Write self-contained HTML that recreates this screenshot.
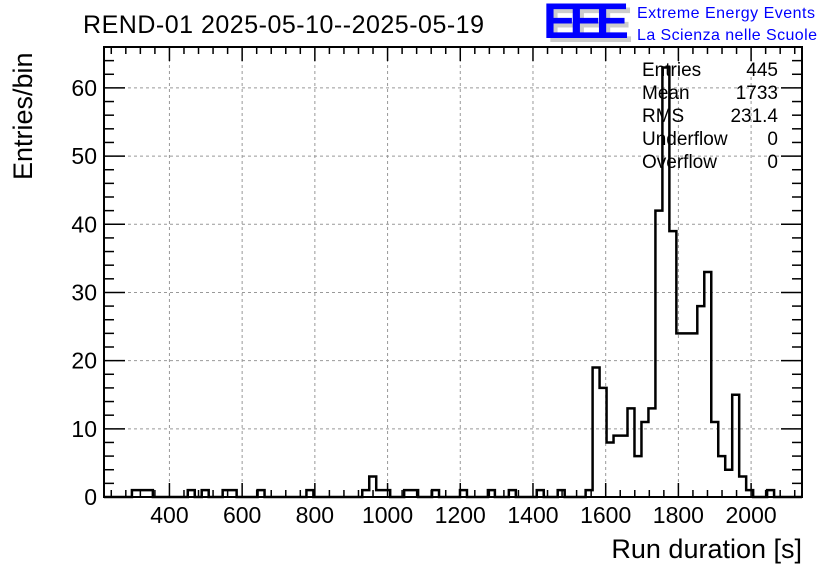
<!DOCTYPE html>
<html><head><meta charset="utf-8"><style>
body{margin:0;background:#fff;}
svg text{font-family:"Liberation Sans",sans-serif;}
</style></head><body>
<svg id="chart" width="836" height="572" xmlns="http://www.w3.org/2000/svg">
<g id="grid"></g>
<g id="ticks"></g>
<path id="hist" fill="none" stroke="#000" stroke-width="2.5"/>
<rect x="104" y="47" width="698" height="450" fill="none" stroke="#000" stroke-width="2"/>
<g id="labels" font-size="23"></g>
<text x="83" y="33" font-size="25" textLength="401">REND-01 2025-05-10--2025-05-19</text>
<text x="802" y="558" font-size="27" text-anchor="end">Run duration [s]</text>
<text transform="translate(32,180) rotate(-90)" font-size="27">Entries/bin</text>
<g>
<text x="547" y="42" font-size="50" font-weight="bold" fill="#ccc" textLength="86">EEE</text>
<text x="543" y="38" font-size="50" font-weight="bold" fill="#0000ff" textLength="86">EEE</text>
<text x="637" y="18" font-size="16" fill="#0000ff" textLength="178">Extreme Energy Events</text>
<text x="637" y="40" font-size="16" fill="#0000ff" textLength="180">La Scienza nelle Scuole</text>
</g>
<g font-size="19">
<text x="642" y="76">Entries</text><text x="778" y="76" text-anchor="end">445</text>
<text x="642" y="99">Mean</text><text x="778" y="99" text-anchor="end">1733</text>
<text x="642" y="122">RMS</text><text x="778" y="122" text-anchor="end">231.4</text>
<text x="642" y="145">Underflow</text><text x="778" y="145" text-anchor="end">0</text>
<text x="642" y="168">Overflow</text><text x="778" y="168" text-anchor="end">0</text>
</g>
</svg>
<script>
const binIndex=[4,5,6,12,14,17,18,22,29,37,38,39,40,43,44,47,51,55,58,62,65,69,70,71,72,73,74,75,76,77,78,79,80,81,82,83,84,85,86,87,88,89,90,91,92,95];
const binCounts=[1,1,1,1,1,1,1,1,1,1,3,1,1,1,1,1,1,1,1,1,1,1,19,16,8,9,9,13,6,11,13,42,63,39,24,24,24,28,33,11,6,4,15,3,1,1];
const xTicks=[400,600,800,1000,1200,1400,1600,1800,2000];
const yTicks=[0,10,20,30,40,50,60];
const xMin=220,xMax=2140,nBins=100,yMax=66;
const X=v=>104+(v-xMin)/(xMax-xMin)*698;
const Y=v=>497-v/yMax*450;
const NS="http://www.w3.org/2000/svg";
const counts=new Array(nBins).fill(0);
binIndex.forEach((b,i)=>counts[b]=binCounts[i]);
const bw=(xMax-xMin)/nBins;
let d="M"+X(xMin)+","+Y(0);
for(let i=0;i<nBins;i++){const x0=X(xMin+i*bw),x1=X(xMin+(i+1)*bw);d+=" L"+x0+","+Y(counts[i])+" L"+x1+","+Y(counts[i]);}
d+=" L"+X(xMax)+","+Y(0);
document.getElementById('hist').setAttribute('d',d);
const grid=document.getElementById('grid'),ticks=document.getElementById('ticks'),labels=document.getElementById('labels');
function line(g,x1,y1,x2,y2,st,dash){const l=document.createElementNS(NS,'line');l.setAttribute('x1',x1);l.setAttribute('y1',y1);l.setAttribute('x2',x2);l.setAttribute('y2',y2);l.setAttribute('stroke',st);l.setAttribute('stroke-width',dash?1:1.5);if(dash)l.setAttribute('stroke-dasharray','3,3');g.appendChild(l);return l;}
xTicks.forEach(v=>{const x=X(v);
const gl=line(grid,x,47,x,497,'#999',true);


line(ticks,x,497,x,483,'#000');line(ticks,x,47,x,61,'#000');
const t=document.createElementNS(NS,'text');t.setAttribute('x',x);t.setAttribute('y',523);t.setAttribute('text-anchor','middle');t.textContent=v;


labels.appendChild(t);});
for(let v=240;v<xMax;v+=40){if(v%200===0)continue;const x=X(v);line(ticks,x,497,x,490,'#000');line(ticks,x,47,x,54,'#000');}
yTicks.forEach(v=>{const y=Y(v);
if(v>0){const gl=line(grid,104,y,802,y,'#999',true);

}
line(ticks,104,y,125,y,'#000');line(ticks,802,y,781,y,'#000');
const t=document.createElementNS(NS,'text');t.setAttribute('x',97);t.setAttribute('y',y+8);t.setAttribute('text-anchor','end');t.textContent=v;


labels.appendChild(t);});
for(let v=2;v<yMax;v+=2){if(v%10===0)continue;const y=Y(v);line(ticks,104,y,114,y,'#000');line(ticks,802,y,792,y,'#000');}
</script>
</body></html>
